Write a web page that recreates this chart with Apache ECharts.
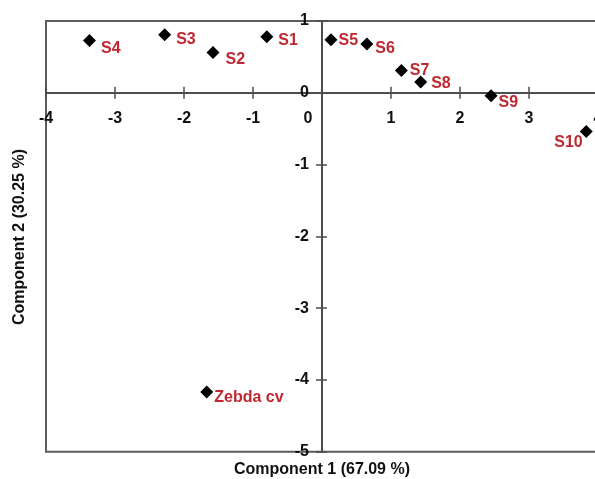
<!DOCTYPE html>
<html>
<head>
<meta charset="utf-8">
<script src="https://cdn.jsdelivr.net/npm/echarts@6/dist/echarts.min.js"></script>
<style>
  html, body { margin: 0; padding: 0; background: #fff; }
  #chart { width: 595px; height: 479px; }
</style>
</head>
<body>
<div id="chart"></div>
<script>
// PCA score plot: samples on the first two components
const sampleNames = ['S1', 'S2', 'S3', 'S4', 'S5', 'S6', 'S7', 'S8', 'S9', 'S10', 'Zebda cv'];
const comp1Scores = [-0.80, -1.58, -2.28, -3.37, 0.13, 0.65, 1.15, 1.43, 2.45, 3.83, -1.67];
const comp2Scores = [0.78, 0.56, 0.81, 0.73, 0.74, 0.68, 0.31, 0.15, -0.04, -0.54, -4.17];

const xTicks = [-4, -3, -2, -1, 0, 1, 2, 3, 4];
const yTicks = [-5, -4, -3, -2, -1, 0, 1];

const xTitle = 'Component 1 (67.09 %)';
const yTitle = 'Component 2 (30.25 %)';

// label placement next to each marker
const labelPlacement = {
  'S1': { pos: 'right', offset: [5, 4] },
  'S2': { pos: 'right', offset: [6, 7] },
  'S3': { pos: 'right', offset: [5, 5] },
  'S4': { pos: 'right', offset: [5, 8] },
  'S5': { pos: 'right', offset: [1, 1] },
  'S6': { pos: 'right', offset: [2, 5] },
  'S7': { pos: 'right', offset: [2, 0] },
  'S8': { pos: 'right', offset: [4, 2] },
  'S9': { pos: 'right', offset: [1, 7] },
  'S10': { pos: 'left', offset: [3, 11] },
  'Zebda cv': { pos: 'right', offset: [1, 5] }
};

const FONT = '"Liberation Sans", Arial, sans-serif';
const AXIS_COLOR = '#4d4d4d';

// plotting frame
const GRID = { left: 46, top: 21, width: 552, height: 430.7 };
const xMin = xTicks[0], xMax = xTicks[xTicks.length - 1];
const yMin = yTicks[0], yMax = yTicks[yTicks.length - 1];
// distances from the frame edges to the zero lines, so the axes cross at the origin
const zeroFromLeft = GRID.width * (0 - xMin) / (xMax - xMin);
const zeroFromRight = GRID.width - zeroFromLeft;
const zeroFromBottom = GRID.height * (0 - yMin) / (yMax - yMin);
const zeroFromTop = GRID.height - zeroFromBottom;

const points = sampleNames.map((name, i) => {
  const p = labelPlacement[name];
  return {
    name: name,
    value: [comp1Scores[i], comp2Scores[i]],
    label: { position: p.pos, offset: p.offset, distance: 0 }
  };
});

const chart = echarts.init(document.getElementById('chart'), null, { renderer: 'canvas' });

const tickStyle = { color: AXIS_COLOR, width: 1.5 };
const tickFont = { color: '#111', fontFamily: FONT, fontSize: 16, fontWeight: 'bold' };

chart.setOption({
  animation: false,
  backgroundColor: '#fff',
  grid: {
    left: GRID.left, top: GRID.top, width: GRID.width, height: GRID.height,
    outerBoundsMode: 'none',
    containLabel: false,
    show: true, borderColor: '#5c5c5c', borderWidth: 2, backgroundColor: 'transparent'
  },
  xAxis: [
    {
      type: 'value', position: 'bottom', offset: -zeroFromBottom,
      min: xMin, max: xMax, interval: 1,
      axisLine: { onZero: false, lineStyle: { color: AXIS_COLOR, width: 2 } },
      axisTick: { show: true, length: 6, lineStyle: tickStyle },
      splitLine: { show: false },
      axisLabel: Object.assign({
        margin: 18,
        showMinLabel: true, showMaxLabel: true,
        formatter: v => (v === 0 ? '{z|0}' : String(v)),
        rich: { z: Object.assign({ padding: [0, 28, 0, 0] }, tickFont) }
      }, tickFont)
    },
    {
      // upper half of the crossing ticks on the horizontal axis
      type: 'value', position: 'top', offset: -zeroFromTop,
      min: xMin, max: xMax, interval: 1,
      axisLine: { show: false, onZero: false },
      axisTick: { show: true, length: 6, lineStyle: tickStyle },
      axisLabel: { show: false },
      splitLine: { show: false }
    }
  ],
  yAxis: [
    {
      type: 'value', position: 'left', offset: -zeroFromLeft,
      min: yMin, max: yMax, interval: 1,
      axisLine: { onZero: false, lineStyle: { color: AXIS_COLOR, width: 2 } },
      axisTick: { show: true, length: 6, lineStyle: tickStyle },
      splitLine: { show: false },
      axisLabel: Object.assign({
        margin: 13,
        showMinLabel: true, showMaxLabel: true
      }, tickFont)
    },
    {
      // right half of the crossing ticks on the vertical axis
      type: 'value', position: 'right', offset: -zeroFromRight,
      min: yMin, max: yMax, interval: 1,
      axisLine: { show: false, onZero: false },
      axisTick: { show: true, length: 5, lineStyle: tickStyle },
      axisLabel: { show: false },
      splitLine: { show: false }
    }
  ],
  series: [
    {
      type: 'scatter',
      xAxisIndex: 0, yAxisIndex: 0,
      symbol: 'diamond',
      symbolSize: 13,
      itemStyle: { color: '#000', opacity: 1 },
      label: {
        show: true,
        formatter: '{b}',
        color: '#c1272f',
        opacity: 1,
        fontFamily: FONT, fontSize: 16, fontWeight: 'bold'
      },
      data: points
    }
  ],
  graphic: [
    {
      type: 'text',
      x: 322, y: 470,
      style: { text: xTitle, fill: '#111', font: 'bold 16px ' + FONT, textAlign: 'center', textVerticalAlign: 'middle' }
    },
    {
      type: 'text',
      x: 20, y: 237,
      rotation: Math.PI / 2,
      style: { text: yTitle, fill: '#111', font: 'bold 16px ' + FONT, textAlign: 'center', textVerticalAlign: 'middle' }
    }
  ]
});
</script>
</body>
</html>
